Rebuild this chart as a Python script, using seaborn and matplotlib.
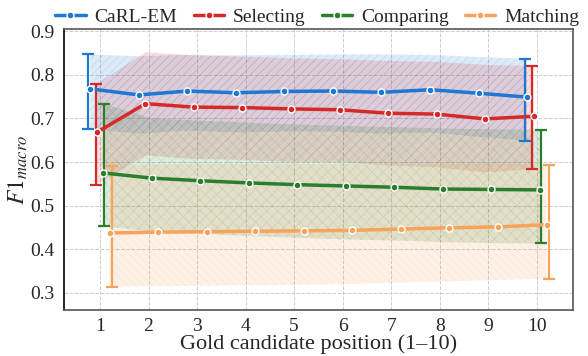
import numpy as np
import matplotlib
matplotlib.use('Agg')
import matplotlib.pyplot as plt
import seaborn as sns

# Gold candidate positions
positions = [1, 2, 3, 4, 5, 6, 7, 8, 9, 10]

# Mean F1 macro per method
carl_mean = [0.768, 0.754, 0.763, 0.759, 0.762, 0.763, 0.760, 0.766, 0.758, 0.749]
sel_mean = [0.668, 0.734, 0.726, 0.725, 0.722, 0.720, 0.712, 0.710, 0.699, 0.705]
cmp_mean = [0.575, 0.563, 0.557, 0.552, 0.548, 0.545, 0.542, 0.538, 0.537, 0.536]
mat_mean = [0.437, 0.439, 0.440, 0.441, 0.442, 0.443, 0.446, 0.449, 0.451, 0.456]

# Band upper / lower bounds per method
carl_hi = [0.847, 0.843, 0.846, 0.845, 0.846, 0.847, 0.847, 0.846, 0.841, 0.837]
carl_lo = [0.675, 0.665, 0.672, 0.668, 0.670, 0.670, 0.665, 0.668, 0.658, 0.649]
sel_hi = [0.779, 0.852, 0.845, 0.842, 0.838, 0.836, 0.832, 0.830, 0.823, 0.820]
sel_lo = [0.548, 0.615, 0.607, 0.605, 0.600, 0.600, 0.592, 0.588, 0.576, 0.584]
cmp_hi = [0.734, 0.700, 0.695, 0.690, 0.686, 0.683, 0.680, 0.677, 0.675, 0.674]
cmp_lo = [0.452, 0.440, 0.435, 0.430, 0.426, 0.422, 0.420, 0.416, 0.414, 0.413]
mat_hi = [0.590, 0.594, 0.595, 0.595, 0.595, 0.595, 0.595, 0.596, 0.595, 0.594]
mat_lo = [0.314, 0.315, 0.316, 0.317, 0.318, 0.320, 0.323, 0.326, 0.329, 0.332]

methods = ['CaRL-EM', 'Selecting', 'Comparing', 'Matching']
means = [carl_mean, sel_mean, cmp_mean, mat_mean]
highs = [carl_hi, sel_hi, cmp_hi, mat_hi]
lows = [carl_lo, sel_lo, cmp_lo, mat_lo]
colors = ['#1f77d4', '#d62a2a', '#2a7f2e', '#f7a35c']
hatches = ['////', '////', 'xxx', '\\\\\\\\']
mark_off = [-0.2, -0.065, 0.065, 0.2]
err_off = [-0.25, -0.09, 0.09, 0.25]

sns.set_theme(style='whitegrid')
plt.rcParams['font.family'] = ['Liberation Serif', 'DejaVu Serif']
plt.rcParams['mathtext.fontset'] = 'stix'
plt.rcParams['hatch.linewidth'] = 0.5

fig = plt.figure(figsize=(5.88, 3.56), dpi=100)
ax = fig.add_axes([0.109, 0.129, 0.865, 0.789])

x = np.array(positions, dtype=float)
for i in range(4):
    m = np.array(means[i])
    hi = np.array(highs[i])
    lo = np.array(lows[i])
    xs = x + mark_off[i]
    ax.fill_between(xs, lo, hi, facecolor=colors[i], alpha=0.15,
                    edgecolor=colors[i], linewidth=0, hatch=hatches[i], zorder=1)
    sns.lineplot(x=xs, y=m, ax=ax, color=colors[i], linewidth=2.5,
                 marker='o', markersize=5, markeredgecolor='white',
                 markeredgewidth=1.0, label=methods[i], zorder=3)
    # error bars at the first and last position
    ends = [0, len(positions) - 1]
    ex = x[ends] + err_off[i]
    ax.errorbar(ex, m[ends], yerr=[m[ends] - lo[ends], hi[ends] - m[ends]],
                fmt='none', ecolor=colors[i], elinewidth=1.6, capsize=4,
                capthick=1.6, zorder=2)

ax.set_xlim(0.26, 10.74)
ax.set_ylim(0.26, 0.905)
ax.set_xticks(positions)
ax.set_yticks([0.3, 0.4, 0.5, 0.6, 0.7, 0.8, 0.9])
ax.tick_params(axis='x', labelsize=14, pad=0)
ax.tick_params(axis='y', labelsize=14, pad=1)
ax.grid(True, linestyle='--', color='#cccccc', linewidth=0.7)
ax.set_xlabel('Gold candidate position (1–10)', fontsize=16, labelpad=-1)
ax.set_ylabel('$F1_{macro}$', fontsize=17, labelpad=0)

for side in ['top', 'right', 'bottom']:
    ax.spines[side].set_color('#555555')
    ax.spines[side].set_linewidth(1.2)
ax.spines['left'].set_color('black')
ax.spines['left'].set_linewidth(1.2)

ax.legend(loc='lower center', bbox_to_anchor=(0.498, 0.985), ncol=4,
          frameon=False, fontsize=14, handlelength=1.55, columnspacing=0.85,
          handletextpad=0.46, borderaxespad=0.0)

fig.savefig('out.png', dpi=100)
